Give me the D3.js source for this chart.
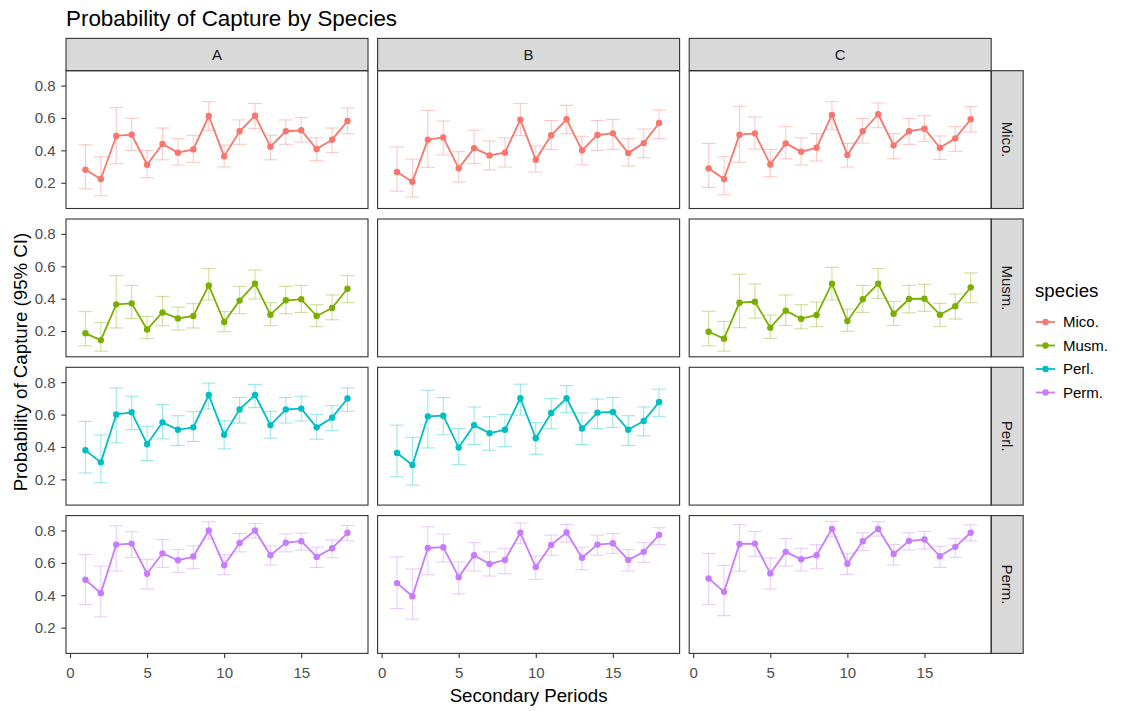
<!DOCTYPE html>
<html>
<head>
<meta charset="utf-8">
<script src="https://cdn.jsdelivr.net/npm/d3@7"></script>
<style>
  body { margin: 0; background: #fff; }
  svg { display: block; font-family: "Liberation Sans", Arial, sans-serif; }
</style>
</head>
<body>
<svg id="chart" width="1146" height="711"></svg>
<script>
// ---- data -------------------------------------------------------------
const sites = ["A", "B", "C"];
const speciesNames = ["Mico.", "Musm.", "Perl.", "Perm."];
const speciesColors = ["#F8766D", "#7CAE00", "#00BFC4", "#C77CFF"];
const periods = [1, 2, 3, 4, 5, 6, 7, 8, 9, 10, 11, 12, 13, 14, 15, 16, 17, 18];
const xTicks = [0, 5, 10, 15];
const yTicks = [0.2, 0.4, 0.6, 0.8];

// Mico.
const micoA_est = [0.280, 0.223, 0.489, 0.497, 0.311, 0.439, 0.386, 0.406, 0.612, 0.363, 0.518, 0.614, 0.423, 0.518, 0.524, 0.408, 0.466, 0.581];
const micoA_lo  = [0.163, 0.120, 0.318, 0.400, 0.231, 0.342, 0.309, 0.326, 0.522, 0.297, 0.437, 0.534, 0.342, 0.437, 0.452, 0.336, 0.386, 0.503];
const micoA_hi  = [0.435, 0.361, 0.664, 0.598, 0.400, 0.538, 0.472, 0.493, 0.701, 0.433, 0.588, 0.689, 0.493, 0.588, 0.602, 0.478, 0.538, 0.662];
const micoB_est = [0.266, 0.206, 0.466, 0.480, 0.289, 0.414, 0.369, 0.386, 0.590, 0.342, 0.493, 0.592, 0.400, 0.495, 0.505, 0.383, 0.445, 0.569];
const micoB_lo  = [0.148, 0.111, 0.295, 0.371, 0.204, 0.318, 0.280, 0.297, 0.491, 0.266, 0.406, 0.503, 0.311, 0.400, 0.406, 0.303, 0.355, 0.472];
const micoB_hi  = [0.421, 0.346, 0.647, 0.581, 0.392, 0.524, 0.458, 0.478, 0.689, 0.427, 0.584, 0.678, 0.487, 0.584, 0.590, 0.472, 0.532, 0.649];
const micoC_est = [0.289, 0.223, 0.497, 0.505, 0.313, 0.443, 0.392, 0.416, 0.619, 0.371, 0.518, 0.623, 0.431, 0.518, 0.534, 0.416, 0.474, 0.592];
const micoC_lo  = [0.171, 0.126, 0.326, 0.408, 0.237, 0.348, 0.309, 0.334, 0.528, 0.297, 0.445, 0.540, 0.348, 0.437, 0.454, 0.344, 0.394, 0.513];
const micoC_hi  = [0.443, 0.361, 0.672, 0.606, 0.406, 0.546, 0.478, 0.503, 0.701, 0.443, 0.596, 0.693, 0.503, 0.596, 0.614, 0.489, 0.546, 0.670];

// Musm. (no site B)
const musmA_est = [0.186, 0.144, 0.365, 0.371, 0.210, 0.315, 0.278, 0.293, 0.482, 0.256, 0.388, 0.493, 0.301, 0.390, 0.396, 0.293, 0.342, 0.462];
const musmA_lo  = [0.109, 0.076, 0.219, 0.278, 0.153, 0.233, 0.206, 0.219, 0.392, 0.196, 0.307, 0.398, 0.233, 0.307, 0.315, 0.227, 0.270, 0.375];
const musmA_hi  = [0.320, 0.252, 0.542, 0.482, 0.291, 0.414, 0.348, 0.369, 0.586, 0.320, 0.476, 0.577, 0.375, 0.476, 0.482, 0.363, 0.423, 0.542];
const musmC_est = [0.196, 0.153, 0.375, 0.381, 0.221, 0.326, 0.276, 0.299, 0.493, 0.262, 0.396, 0.493, 0.307, 0.398, 0.400, 0.301, 0.353, 0.470];
const musmC_lo  = [0.109, 0.076, 0.221, 0.280, 0.155, 0.235, 0.214, 0.227, 0.392, 0.198, 0.315, 0.402, 0.235, 0.313, 0.322, 0.227, 0.274, 0.375];
const musmC_hi  = [0.322, 0.260, 0.551, 0.491, 0.299, 0.423, 0.363, 0.379, 0.594, 0.336, 0.482, 0.586, 0.383, 0.482, 0.489, 0.371, 0.429, 0.559];

// Perl. (no site C)
const perlA_est = [0.380, 0.305, 0.601, 0.614, 0.417, 0.552, 0.506, 0.521, 0.721, 0.475, 0.632, 0.721, 0.535, 0.632, 0.637, 0.521, 0.581, 0.699];
const perlA_lo  = [0.239, 0.179, 0.425, 0.506, 0.316, 0.450, 0.409, 0.434, 0.634, 0.388, 0.548, 0.643, 0.454, 0.548, 0.560, 0.448, 0.500, 0.620];
const perlA_hi  = [0.558, 0.475, 0.765, 0.713, 0.527, 0.663, 0.593, 0.618, 0.794, 0.562, 0.705, 0.786, 0.620, 0.705, 0.713, 0.601, 0.655, 0.765];
const perlB_est = [0.363, 0.289, 0.589, 0.593, 0.396, 0.535, 0.485, 0.506, 0.701, 0.454, 0.610, 0.701, 0.514, 0.612, 0.616, 0.506, 0.560, 0.678];
const perlB_lo  = [0.216, 0.164, 0.394, 0.475, 0.291, 0.415, 0.380, 0.403, 0.597, 0.355, 0.512, 0.612, 0.415, 0.514, 0.521, 0.409, 0.469, 0.589];
const perlB_hi  = [0.535, 0.460, 0.750, 0.705, 0.514, 0.647, 0.587, 0.601, 0.788, 0.550, 0.699, 0.779, 0.610, 0.696, 0.705, 0.593, 0.647, 0.757];

// Perm.
const permA_est = [0.496, 0.413, 0.713, 0.719, 0.533, 0.659, 0.616, 0.639, 0.800, 0.585, 0.723, 0.800, 0.647, 0.725, 0.734, 0.637, 0.690, 0.786];
const permA_lo  = [0.343, 0.266, 0.550, 0.634, 0.438, 0.572, 0.541, 0.564, 0.748, 0.527, 0.668, 0.754, 0.587, 0.668, 0.678, 0.572, 0.632, 0.736];
const permA_hi  = [0.651, 0.579, 0.829, 0.792, 0.622, 0.744, 0.682, 0.705, 0.854, 0.651, 0.781, 0.843, 0.705, 0.779, 0.783, 0.697, 0.742, 0.831];
const permB_est = [0.475, 0.394, 0.692, 0.697, 0.512, 0.647, 0.593, 0.618, 0.786, 0.574, 0.711, 0.788, 0.632, 0.713, 0.721, 0.618, 0.668, 0.773];
const permB_lo  = [0.318, 0.252, 0.527, 0.606, 0.409, 0.550, 0.519, 0.533, 0.719, 0.498, 0.647, 0.728, 0.558, 0.647, 0.659, 0.550, 0.603, 0.713];
const permB_hi  = [0.637, 0.562, 0.823, 0.777, 0.606, 0.725, 0.668, 0.690, 0.846, 0.643, 0.771, 0.837, 0.697, 0.771, 0.781, 0.682, 0.725, 0.817];
const permC_est = [0.504, 0.421, 0.717, 0.719, 0.535, 0.668, 0.622, 0.647, 0.810, 0.595, 0.734, 0.810, 0.655, 0.736, 0.744, 0.641, 0.699, 0.786];
const permC_lo  = [0.343, 0.274, 0.548, 0.641, 0.438, 0.579, 0.550, 0.564, 0.761, 0.529, 0.676, 0.765, 0.587, 0.680, 0.686, 0.572, 0.634, 0.736];
const permC_hi  = [0.659, 0.585, 0.837, 0.794, 0.630, 0.750, 0.690, 0.713, 0.856, 0.659, 0.786, 0.854, 0.713, 0.786, 0.794, 0.703, 0.750, 0.835];

// grid of panels: rows = species, columns = sites (null = no data)
const panelData = [
  [[micoA_est, micoA_lo, micoA_hi], [micoB_est, micoB_lo, micoB_hi], [micoC_est, micoC_lo, micoC_hi]],
  [[musmA_est, musmA_lo, musmA_hi], null,                            [musmC_est, musmC_lo, musmC_hi]],
  [[perlA_est, perlA_lo, perlA_hi], [perlB_est, perlB_lo, perlB_hi], null],
  [[permA_est, permA_lo, permA_hi], [permB_est, permB_lo, permB_hi], [permC_est, permC_lo, permC_hi]]
];

// ---- layout -----------------------------------------------------------
const plotLeft = 66, plotTop = 70.7;
const panelW = 302, panelH = 137.8;
const gapX = 9.6, gapY = 10.5;
const stripH = 32.3, stripW = 32;
const ink = "#333333";

const svg = d3.select("#chart");

const x = d3.scaleLinear().domain([-0.26, 19.33]).range([0, panelW]);
const y = d3.scaleLinear().domain([0.041, 0.892]).range([panelH, 0]);

const line = d3.line().x((d, i) => x(periods[i])).y(d => y(d));

// title
svg.append("text")
  .attr("x", plotLeft).attr("y", 26)
  .attr("font-size", 22.4).attr("fill", "#000")
  .text("Probability of Capture by Species");

// column strips
sites.forEach((s, c) => {
  const gx = plotLeft + c * (panelW + gapX);
  svg.append("rect")
    .attr("x", gx).attr("y", plotTop - stripH)
    .attr("width", panelW).attr("height", stripH)
    .attr("fill", "#D9D9D9").attr("stroke", ink).attr("stroke-width", 1.1);
  svg.append("text")
    .attr("x", gx + panelW / 2).attr("y", plotTop - stripH / 2)
    .attr("dy", "0.36em").attr("text-anchor", "middle")
    .attr("font-size", 15).attr("fill", "#1A1A1A")
    .text(s);
});

// row strips
speciesNames.forEach((sp, r) => {
  const gy = plotTop + r * (panelH + gapY);
  const sx = plotLeft + 3 * panelW + 2 * gapX;
  svg.append("rect")
    .attr("x", sx).attr("y", gy)
    .attr("width", stripW).attr("height", panelH)
    .attr("fill", "#D9D9D9").attr("stroke", ink).attr("stroke-width", 1.1);
  svg.append("text")
    .attr("transform", `translate(${sx + stripW / 2},${gy + panelH / 2}) rotate(90)`)
    .attr("dy", "0.36em").attr("text-anchor", "middle")
    .attr("font-size", 15).attr("fill", "#1A1A1A")
    .text(sp);
});

// panels
speciesNames.forEach((sp, r) => {
  sites.forEach((s, c) => {
    const gx = plotLeft + c * (panelW + gapX);
    const gy = plotTop + r * (panelH + gapY);
    const g = svg.append("g").attr("transform", `translate(${gx},${gy})`);
    const col = speciesColors[r];
    const d = panelData[r][c];

    if (d) {
      const [est, lo, hi] = d;
      const capHalf = (x(0.45) - x(0));
      const eb = g.append("g")
        .attr("stroke", col).attr("stroke-opacity", 0.38).attr("stroke-width", 1.1)
        .attr("fill", "none");
      periods.forEach((p, i) => {
        const px = x(p);
        eb.append("line").attr("x1", px).attr("x2", px).attr("y1", y(lo[i])).attr("y2", y(hi[i]));
        eb.append("line").attr("x1", px - capHalf).attr("x2", px + capHalf).attr("y1", y(lo[i])).attr("y2", y(lo[i]));
        eb.append("line").attr("x1", px - capHalf).attr("x2", px + capHalf).attr("y1", y(hi[i])).attr("y2", y(hi[i]));
      });
      g.append("path")
        .datum(est)
        .attr("d", line)
        .attr("fill", "none").attr("stroke", col).attr("stroke-width", 1.8)
        .attr("stroke-linejoin", "round");
      g.selectAll("circle.pt")
        .data(est)
        .join("circle")
        .attr("class", "pt")
        .attr("cx", (v, i) => x(periods[i]))
        .attr("cy", v => y(v))
        .attr("r", 3.2)
        .attr("fill", col);
    }

    g.append("rect")
      .attr("width", panelW).attr("height", panelH)
      .attr("fill", "none").attr("stroke", ink).attr("stroke-width", 1.1);

    // y axis on the first column
    if (c === 0) {
      const ax = g.append("g")
        .call(d3.axisLeft(y).tickValues(yTicks).tickFormat(d3.format(".1f")).tickSize(4.7).tickPadding(5.8));
      ax.select(".domain").remove();
      ax.selectAll(".tick line").attr("stroke", ink).attr("stroke-width", 1.1);
      ax.selectAll(".tick text").attr("fill", "#4D4D4D").attr("font-size", 15)
        .attr("font-family", "Liberation Sans, Arial, sans-serif");
    }
    // x axis on the bottom row
    if (r === speciesNames.length - 1) {
      const ax = g.append("g")
        .attr("transform", `translate(0,${panelH})`)
        .call(d3.axisBottom(x).tickValues(xTicks).tickFormat(d3.format("d")).tickSize(4.7).tickPadding(9));
      ax.select(".domain").remove();
      ax.selectAll(".tick line").attr("stroke", ink).attr("stroke-width", 1.1);
      ax.selectAll(".tick text").attr("fill", "#4D4D4D").attr("font-size", 15)
        .attr("font-family", "Liberation Sans, Arial, sans-serif");
    }
  });
});

// axis titles
const plotBottom = plotTop + 4 * panelH + 3 * gapY;
svg.append("text")
  .attr("x", plotLeft + (3 * panelW + 2 * gapX) / 2).attr("y", 701.5)
  .attr("text-anchor", "middle").attr("font-size", 18.7).attr("fill", "#000")
  .text("Secondary Periods");
svg.append("text")
  .attr("transform", `translate(26.5,${(plotTop + plotBottom) / 2}) rotate(-90)`)
  .attr("text-anchor", "middle").attr("font-size", 18.7).attr("fill", "#000")
  .text("Probability of Capture (95% CI)");

// legend: line + point keys
const legX = 1035, legY = 297;
svg.append("text")
  .attr("x", legX).attr("y", legY)
  .attr("font-size", 18.7).attr("fill", "#000")
  .text("species");
speciesNames.forEach((sp, i) => {
  const ky = legY + 25 + i * 23.5;
  const kg = svg.append("g").attr("transform", `translate(${legX},${ky})`);
  kg.append("line").attr("x1", 1).attr("x2", 20).attr("y1", 0).attr("y2", 0)
    .attr("stroke", speciesColors[i]).attr("stroke-width", 1.8);
  kg.append("circle").attr("cx", 10.5).attr("cy", 0).attr("r", 3.2).attr("fill", speciesColors[i]);
  kg.append("text").attr("x", 28).attr("y", 0).attr("dy", "0.36em")
    .attr("font-size", 15).attr("fill", "#000").text(sp);
});
</script>
</body>
</html>
